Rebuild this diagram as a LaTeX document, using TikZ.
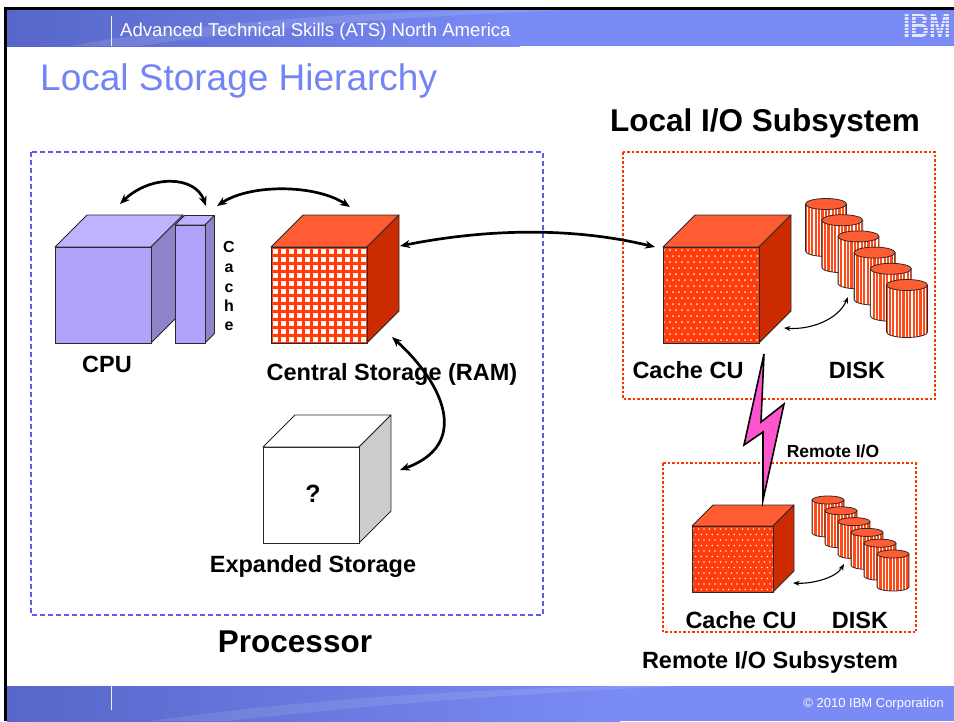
\documentclass[tikz,border=0pt]{standalone}
\usepackage{fontspec}
\setmainfont{Liberation Sans}
\usetikzlibrary{arrows.meta}

\definecolor{bandLight}{HTML}{7B8BF6}
\definecolor{bandDark}{HTML}{5766C8}
\definecolor{titleBlue}{HTML}{7384F4}
\definecolor{cpuFront}{HTML}{B1A3FA}
\definecolor{cpuTop}{HTML}{BFB3FF}
\definecolor{cpuSide}{HTML}{8F83CA}
\definecolor{redTop}{HTML}{FF5C33}
\definecolor{redSide}{HTML}{CC2B00}
\definecolor{redFront}{HTML}{FF3C0C}
\definecolor{ramSq}{HTML}{FFF2EE}
\definecolor{dotPink}{HTML}{FFE6DE}
\definecolor{greySide}{HTML}{CCCCCC}
\definecolor{edgeGrey}{HTML}{2A2A2A}
\definecolor{procBlue}{HTML}{5C5CF2}
\definecolor{ioRed}{HTML}{FF3300}
\definecolor{boltPink}{HTML}{FF55CC}
\definecolor{diskRed}{HTML}{FF4A1A}

% top and right faces of a box: x1 y1 x2 y2 (front face) depth topcolour sidecolour
\newcommand{\cubetopside}[7]{%
  \filldraw[fill=#6,draw=edgeGrey,line width=0.8,line join=round]
    (#1,#2) -- (#1+#5,#2-#5) -- (#3+#5,#2-#5) -- (#3,#2) -- cycle;
  \filldraw[fill=#7,draw=edgeGrey,line width=0.8,line join=round]
    (#3,#2) -- (#3+#5,#2-#5) -- (#3+#5,#4-#5) -- (#3,#4) -- cycle;
}

% striped disk drum: centre x, top y, x radius, y radius, height
\newcommand{\diskdrum}[5]{%
  \begin{scope}
    \clip (#1-#3,#2) -- (#1-#3,#2+#5)
      arc[start angle=180,end angle=0,x radius=#3,y radius=#4] -- (#1+#3,#2) -- cycle;
    \fill[diskRed] (#1-#3,#2-#4) rectangle (#1+#3,#2+#5+#4);
    \foreach \k in {0,...,14}
      \draw[white,line width=1.1] ({#1-#3+1.7+\k*3.4},#2) -- ++(0,#5+#4);
  \end{scope}
  \draw[edgeGrey,line width=0.8] (#1-#3,#2) -- (#1-#3,#2+#5)
    arc[start angle=180,end angle=0,x radius=#3,y radius=#4] -- (#1+#3,#2);
  \filldraw[fill=redTop,draw=edgeGrey,line width=0.8] (#1,#2) ellipse [x radius=#3,y radius=#4];
}

\tikzset{
  lbl/.style={inner sep=0pt,anchor=base,font=\fontsize{23.5}{28}\selectfont\bfseries},
  biglbl/.style={inner sep=0pt,anchor=base,font=\fontsize{31.5}{36}\selectfont\bfseries},
  cachelbl/.style={inner sep=0pt,anchor=base,font=\fontsize{16}{18}\selectfont\bfseries},
  bigarrow/.style={line width=2.7pt,{Stealth[length=10pt,width=8pt]}-{Stealth[length=10pt,width=8pt]}},
  thinarrow/.style={line width=1.1pt,{Stealth[length=6.5pt,width=5pt]}-{Stealth[length=6.5pt,width=5pt]}},
  procbox/.style={draw=procBlue,line width=1.3pt,dash pattern=on 5pt off 3pt},
  iobox/.style={draw=ioRed,line width=2.6pt,dash pattern=on 2.5pt off 2pt},
}

\begin{document}
\begin{tikzpicture}[x=1pt,y=-1pt]
\clip (0,0) rectangle (954,721);
\fill[white] (0,0) rectangle (954,721);

% ---- header band ----
\shade[left color=bandDark,right color=bandLight] (7,9.5) rectangle (520,46);
\fill[bandLight] (519,9.5) rectangle (954,46);
\fill[white,opacity=0.12] (70,46) .. controls (200,22) and (350,12) .. (520,9.5)
  -- (580,9.5) .. controls (400,16) and (240,30) .. (140,46) -- cycle;
\draw[white!85!bandLight,line width=1] (111,16) -- (111,46);
\node[inner sep=0pt,anchor=base west,text=white,font=\fontsize{18.6}{22}\selectfont]
  (header) at (120,36.5) {Advanced Technical Skills (ATS) North America};
% logo, striped like the corporate mark
\node[inner sep=0pt,anchor=base west,text=white!80!bandLight,
  font=\fontsize{26}{30}\selectfont\bfseries] (logo) at (903,37) {\scalebox{1}[1.3]{IBM}};
\foreach \s in {0,...,7}
  \draw[bandLight,line width=1.1] (900,{13.5+\s*3.4}) -- (954,{13.5+\s*3.4});

% ---- footer band ----
\shade[left color=bandDark,right color=bandLight] (7,686) rectangle (620,721);
\fill[bandLight] (619,686) rectangle (954,721);
\fill[white,opacity=0.10] (150,721) .. controls (300,700) and (450,690) .. (620,686)
  -- (680,686) .. controls (500,694) and (340,708) .. (230,721) -- cycle;
\draw[white!85!bandLight,line width=1] (111,686) -- (111,710);
\node[inner sep=0pt,anchor=base east,text=white,font=\fontsize{13}{15}\selectfont]
  (footer) at (944,707) {© 2010 IBM Corporation};

% ---- frame ----
\fill[black] (4,7) rectangle (954,9.5);
\fill[black] (4,7) rectangle (7,721);

% ---- title ----
\node[inner sep=0pt,anchor=base west,text=titleBlue,font=\fontsize{37}{42}\selectfont]
  (title) at (40,90) {Local Storage Hierarchy};

% ---- group boxes ----
\draw[procbox] (31,152) rectangle (543,615);
\draw[iobox] (623,152) rectangle (935,399);
\draw[iobox] (663,463) rectangle (916,632);

\node[biglbl] (procLbl) at (295,652) {Processor};
\node[biglbl] (localLbl) at (765,131) {Local I/O Subsystem};
\node[lbl] (remoteLbl) at (770,668) {Remote I/O Subsystem};

% ---- CPU with cache slab ----
\cubetopside{55}{247}{151}{343}{32}{cpuTop}{cpuSide}
\filldraw[fill=cpuFront,draw=edgeGrey,line width=0.8] (55,247) rectangle (151,343);
\cubetopside{175}{225}{205}{343}{9.5}{cpuTop}{cpuSide}
\filldraw[fill=cpuFront,draw=edgeGrey,line width=0.8] (175,225) rectangle (205,343);
\foreach \ch/\yb [count=\n] in {C/252,a/272,c/292,h/311,e/330}
  \node[cachelbl] (cacheL\n) at (229,\yb) {\ch};
\node[lbl] (cpuLbl) at (107,372) {CPU};

% ---- central storage ----
\cubetopside{271}{247}{367}{343}{32}{redTop}{redSide}
\fill[redFront] (271,247) rectangle (367,343);
\foreach \i in {0,...,11}
  \foreach \j in {0,...,11}
    \fill[ramSq] ({273+\i*8},{249+\j*8}) rectangle ++(5,5);
\draw[edgeGrey,line width=0.8] (271,247) rectangle (367,343);
\node[lbl] (ramLbl) at (392,380) {Central Storage (RAM)};

% ---- expanded storage ----
\cubetopside{263}{447}{359}{543}{32}{white}{greySide}
\filldraw[fill=white,draw=edgeGrey,line width=0.8] (263,447) rectangle (359,543);
\node[inner sep=0pt,font=\fontsize{25}{28}\selectfont\bfseries] (qmark) at (313,494) {?};
\node[lbl] (expLbl) at (313,572) {Expanded Storage};

% ---- local control unit ----
\cubetopside{663}{247}{759}{343}{32}{redTop}{redSide}
\fill[redFront] (663,247) rectangle (759,343);
\begin{scope}
  \clip (663,247) rectangle (759,343);
  \foreach \r in {0,...,15}
    \foreach \c in {0,...,16}
      \fill[dotPink] ({664+\c*6+mod(\r,2)*3},{250+\r*6}) circle (1.0);
\end{scope}
\draw[edgeGrey,line width=0.8] (663,247) rectangle (759,343);

% local disks
\foreach \d in {0,...,5}{
  \pgfmathsetmacro\cx{826+16.2*\d}
  \pgfmathsetmacro\ty{204+16.2*\d}
  \diskdrum{\cx}{\ty}{20.5}{5.5}{47}
}
\node[lbl] (cuLocalLbl) at (688,378) {Cache CU};
\node[lbl] (diskLocalLbl) at (857,378) {DISK};

% ---- remote control unit ----
\cubetopside{692}{526}{773}{592}{21}{redTop}{redSide}
\fill[redFront] (692,526) rectangle (773,592);
\begin{scope}
  \clip (692,526) rectangle (773,592);
  \foreach \r in {0,...,12}
    \foreach \c in {0,...,15}
      \fill[dotPink] ({693+\c*5.5+mod(\r,2)*2.75},{529+\r*5.5}) circle (0.9);
\end{scope}
\draw[edgeGrey,line width=0.8] (692,526) rectangle (773,592);

% remote disks
\foreach \d in {0,...,5}{
  \pgfmathsetmacro\cx{828+13*\d}
  \pgfmathsetmacro\ty{500+10.8*\d}
  \diskdrum{\cx}{\ty}{16}{4}{33}
}
\node[lbl] (cuRemoteLbl) at (741,628) {Cache CU};
\node[lbl] (diskRemoteLbl) at (860,628) {DISK};
\node[inner sep=0pt,anchor=base,font=\fontsize{17.5}{20}\selectfont\bfseries]
  (remoteIOLbl) at (833,457) {Remote I/O};

% ---- remote link ----
\filldraw[fill=boltPink,draw=black,line width=1.6,line join=miter]
  (764,354) -- (744,445) -- (763,432) -- (763,500) -- (784,404) -- (761,422) -- cycle;

% ---- connectors ----
\coordinate (cpuTip) at (120,204);
\coordinate (cacheTipA) at (206,206);
\coordinate (cacheTipB) at (217,206);
\coordinate (ramTopTip) at (350,207);
\coordinate (ramSideTip) at (400,246);
\coordinate (cuLocalTip) at (655,247);
\coordinate (ramLowTip) at (392,337);
\coordinate (expTip) at (400,470);
\coordinate (cuLocalArr) at (784,328);
\coordinate (diskLocalArr) at (848,297);
\coordinate (cuRemoteArr) at (793,583);
\coordinate (diskRemoteArr) at (844,564);

\draw[bigarrow] (cpuTip) .. controls (150,175) and (195,175) .. (cacheTipA);
\draw[bigarrow] (cacheTipB) .. controls (250,184) and (315,184) .. (ramTopTip);
\draw[bigarrow] (ramSideTip) .. controls (470,232) and (560,224) .. (cuLocalTip);
\draw[bigarrow] (ramLowTip) .. controls (445,385) and (470,445) .. (expTip);
\draw[thinarrow] (cuLocalArr) .. controls (810,330) and (838,320) .. (diskLocalArr);
\draw[thinarrow] (cuRemoteArr) .. controls (812,584) and (836,578) .. (diskRemoteArr);
\end{tikzpicture}
\end{document}
